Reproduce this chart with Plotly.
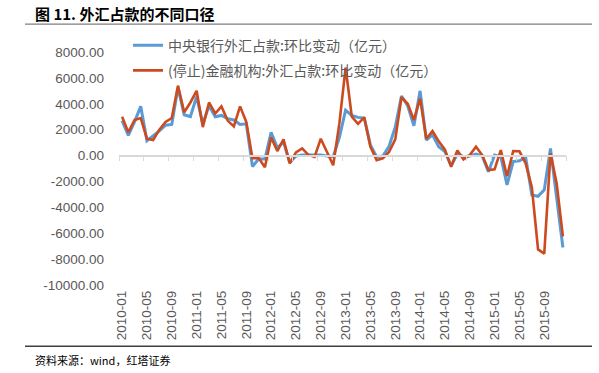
import plotly.graph_objects as go

months = [f"{y}-{m:02d}" for y in range(2010, 2016) for m in range(1, 13)]

pboc = [2700, 1550, 2600, 3800, 1150, 1500, 1900, 2350, 2400, 5250, 3150, 3000,
        4550, 2450, 3850, 3000, 3100, 2850, 2750, 2400, 2450, -850, -270, -270,
        1800, 600, 1050, -550, -40, 40, 40, 40, 40, -40, -90, 1400,
        3500, 3100, 2950, 2900, 800, -90, -40, 720, 2200, 4600, 3850, 2300,
        5000, 1200, 1600, 680, 300, -800, 120, -90, -40, 120, -40, -1250,
        40, -90, -2270, -470, -400, -140, -3050, -3150, -2650, 550, -3300, -7100]

fin = [3000, 1800, 2750, 2900, 1300, 1200, 2000, 2600, 2900, 5400, 3350, 4100,
       5000, 2200, 4100, 3250, 3800, 2700, 2250, 3800, 2600, -200, -200, -900,
       1400, 350, 1250, -600, 250, 550, 50, -100, 1300, 300, -750, 2500,
       6800, 3000, 2450, 2950, 680, -350, -220, 280, 1250, 4500, 4000, 2750,
       4400, 1300, 1900, 1100, 450, -870, 400, -300, 40, 680, 40, -1120,
       -1070, 420, -1600, 350, 330, -600, -2450, -7250, -7580, 170, -2150, -6250]

ytick_vals = [8000, 6000, 4000, 2000, 0, -2000, -4000, -6000, -8000, -10000]
ytick_text = ["8000.00", "6000.00", "4000.00", "2000.00", "0.00", "-2000.00",
              "-4000.00", "-6000.00", "-8000.00", "-10000.00"]
xtick_labels = months[::4]

name1 = "中央银行外汇占款:环比变动（亿元）"
name2 = "(停止)金融机构:外汇占款:环比变动（亿元）"

W, H = 599, 373
ML, MR, MT, MB = 119, 33, 51.5, 87.5
YMIN, YMAX = -10000, 8000
gray = "#595959"

fig = go.Figure()
fig.add_trace(go.Scatter(x=months, y=pboc, mode="lines", name=name1,
                         line=dict(color="#5B9BD5", width=3), legendgroup="a"))
fig.add_trace(go.Scatter(x=months, y=fin, mode="lines", name=name2,
                         line=dict(color="#CC4A1E", width=2.6), legendgroup="b"))
fig.add_trace(go.Scatter(x=months, y=[None] * len(months), xaxis="x2",
                         showlegend=False, hoverinfo="skip"))

zero_pos = (0 - YMIN) / (YMAX - YMIN)
pw = W - ML - MR
ph = H - MT - MB


def px2paper_x(px):
    return (px - ML) / pw


def px2paper_y(py):
    return 1 - (py - MT) / ph


fig.update_layout(
    width=W, height=H,
    margin=dict(l=ML, r=MR, t=MT, b=MB, pad=0, autoexpand=False),
    paper_bgcolor="white", plot_bgcolor="white",
    font=dict(family="Liberation Sans, Arial, sans-serif", color=gray),
    xaxis=dict(type="category", range=[-0.5, len(months) - 0.5],
               anchor="free", position=zero_pos, side="bottom",
               showline=True, linecolor="#D9D9D9", linewidth=1.5,
               ticks="outside", tickson="boundaries", tickmode="linear",
               tick0=0, dtick=4, ticklen=5, tickcolor="#D9D9D9", tickwidth=1.3,
               showticklabels=False, showgrid=False, zeroline=False),
    xaxis2=dict(type="category", matches="x", overlaying="x", anchor="y",
                side="bottom", showline=False, ticks="", showgrid=False,
                tickmode="array", tickvals=xtick_labels, ticktext=xtick_labels,
                tickangle=-90, tickfont=dict(size=13.5, color=gray),
                ticklabelstandoff=2),
    yaxis=dict(range=[YMIN, YMAX], tickvals=ytick_vals, ticktext=ytick_text,
               showgrid=False, zeroline=False, showline=False, ticks="",
               tickfont=dict(size=13.5, color=gray), ticklabelstandoff=14),
    legend=dict(xref="paper", yref="paper", x=px2paper_x(128), y=px2paper_y(29),
                xanchor="left", yanchor="top", bgcolor="rgba(0,0,0,0)",
                font=dict(family="Noto Sans CJK SC", size=14, color=gray),
                tracegroupgap=4, itemwidth=30),
    showlegend=True,
)

fig.add_annotation(text="<b>图 11. 外汇占款的不同口径</b>", xref="paper", yref="paper",
                   x=px2paper_x(33), y=px2paper_y(13), xanchor="left", yanchor="middle",
                   showarrow=False,
                   font=dict(family="Noto Sans CJK SC", size=15, color="#000000"))
fig.add_annotation(text="资料来源：wind，红塔证券", xref="paper", yref="paper",
                   x=px2paper_x(33), y=px2paper_y(361), xanchor="left", yanchor="middle",
                   showarrow=False,
                   font=dict(family="Noto Sans CJK SC", size=11, color="#000000"))

for py, col in [(23.5, "#7F7F7F"), (347, "#404040")]:
    fig.add_shape(type="line", xref="paper", yref="paper",
                  x0=px2paper_x(25), x1=px2paper_x(592),
                  y0=px2paper_y(py), y1=px2paper_y(py),
                  line=dict(color=col, width=1.3))

fig.write_html("out.html", config={"displayModeBar": False},
               post_script="document.body.style.margin='0';document.body.style.overflow='hidden';")
